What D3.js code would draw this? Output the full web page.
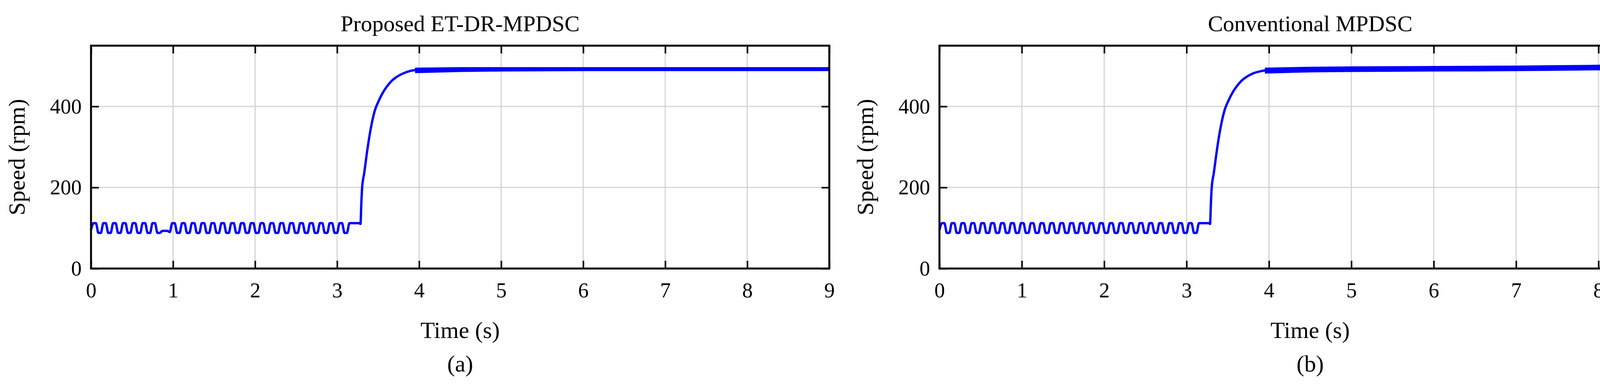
<!DOCTYPE html>
<html><head><meta charset="utf-8">
<script src="https://cdn.jsdelivr.net/npm/d3@7"></script>
<style>body{margin:0;background:#fff}</style></head>
<body><svg id="c" width="4342" height="989"></svg>
<script>
const titles = ["Proposed ET-DR-MPDSC", "Conventional MPDSC"];
const captions = ["(a)", "(b)"];
const xTicks = [0,1,2,3,4,5,6,7,8,9];
const yTicks = [0,200,400];
const lowStep = 0.03;
const lowA = [95,112,112,88,88,112,112,88,88,112,112,88,88,112,112,88,88,112,112,88,88,112,112,88,88,112,112,88,88,
  93,93,93,90,
  112,112,88,88,112,112,88,88,112,112,88,88,112,112,88,88,112,112,88,88,112,112,88,88,112,112,88,88,
  112,112,88,88,112,112,88,88,112,112,88,88,112,112,88,88,112,112,88,88,112,112,88,88,112,112,88,88,
  112,112,88,88,112,112,88,88,112,112,88,88,112,112,88,88,112,112];
const lowB = [95,112,112,88,88,112,112,88,88,112,112,88,88,112,112,88,88,112,112,88,88,112,112,88,88,112,112,88,88,
  112,112,88,88,112,112,88,88,112,112,88,88,112,112,88,88,112,112,88,88,112,112,88,88,112,112,88,88,112,112,88,88,
  112,112,88,88,112,112,88,88,112,112,88,88,112,112,88,88,112,112,88,88,112,112,88,88,112,112,88,88,
  112,112,88,88,112,112,88,88,112,112,88,88,112,112,88,88,112,112];
const riseA = [[3.27,112],[3.285,110],[3.295,160],[3.305,200],[3.33,235],[3.37,295],[3.41,345],[3.46,390],[3.51,415],[3.56,435],[3.61,450],[3.66,462],[3.72,472],[3.8,481],[3.88,487],[3.96,490]];
const riseB = [[3.27,112],[3.285,110],[3.295,160],[3.305,200],[3.33,235],[3.37,295],[3.41,345],[3.46,390],[3.51,415],[3.56,435],[3.61,450],[3.66,462],[3.72,472],[3.8,481],[3.88,486],[3.96,489]];
const bandT = [3.96,4.5,5,6,7,8,9];
const bandA_hi = [494,495,495,495,495,495,495];
const bandA_lo = [484,487,488,489,489,489,489];
const bandB_hi = [494,496,497,498,499,501,502];
const bandB_lo = [483,486,487,488,489,491,492];

const series = [
  {low: lowA, rise: riseA, hi: bandA_hi, lo: bandA_lo},
  {low: lowB, rise: riseB, hi: bandB_hi, lo: bandB_lo}
];
const panels = [{x0:233,x1:2123},{x0:2405,x1:4303}];
const plotTop = 117, plotBot = 688;
const svg = d3.select("#c");
const font = "'Liberation Serif','Times New Roman',serif";

panels.forEach((p,i)=>{
  const s = series[i];
  const x = d3.scaleLinear().domain([0,9]).range([p.x0,p.x1]);
  const y = d3.scaleLinear().domain([0,550]).range([plotBot,plotTop]);
  const g = svg.append("g");
  g.selectAll(".gx").data(xTicks.slice(1,-1)).enter().append("line")
    .attr("x1",d=>x(d)).attr("x2",d=>x(d)).attr("y1",plotTop).attr("y2",plotBot)
    .attr("stroke","#d4d4d4").attr("stroke-width",3);
  g.selectAll(".gy").data(yTicks.slice(1)).enter().append("line")
    .attr("y1",d=>y(d)).attr("y2",d=>y(d)).attr("x1",p.x0).attr("x2",p.x1)
    .attr("stroke","#d4d4d4").attr("stroke-width",3);
  const lowPts = s.low.map((v,k)=>[k*lowStep,v]);
  const pts = lowPts.concat(s.rise);
  const line = d3.line().x(d=>x(d[0])).y(d=>y(d[1])).curve(d3.curveMonotoneX);
  g.append("path").attr("d",line(pts)).attr("fill","none").attr("stroke","#0000ff").attr("stroke-width",6).attr("stroke-linejoin","round");
  const band = bandT.map((t,k)=>[t,s.lo[k],s.hi[k]]);
  g.append("path").attr("d",d3.area().x(d=>x(d[0])).y0(d=>y(d[1])).y1(d=>y(d[2])).curve(d3.curveMonotoneX)(band))
    .attr("fill","#0000ff").attr("stroke","#0000ff").attr("stroke-width",4);
  const ax = g.append("g").attr("transform",`translate(0,${plotBot})`)
    .call(d3.axisBottom(x).tickValues(xTicks).tickSize(-20).tickPadding(36).tickFormat(d3.format("d")));
  const axT = g.append("g").attr("transform",`translate(0,${plotTop})`)
    .call(d3.axisTop(x).tickValues(xTicks).tickSize(-20).tickFormat(""));
  const ay = g.append("g").attr("transform",`translate(${p.x0},0)`)
    .call(d3.axisLeft(y).tickValues(yTicks).tickSize(-20).tickPadding(24).tickFormat(d3.format("d")));
  const ayR = g.append("g").attr("transform",`translate(${p.x1},0)`)
    .call(d3.axisRight(y).tickValues(yTicks).tickSize(-20).tickFormat(""));
  [ax,axT,ay,ayR].forEach(a=>{
    a.select(".domain").remove();
    a.selectAll("line").attr("stroke","#000").attr("stroke-width",4);
    a.selectAll("text").attr("font-family",font).attr("font-size",54).attr("fill","#000");
  });
  g.append("rect").attr("x",p.x0).attr("y",plotTop).attr("width",p.x1-p.x0).attr("height",plotBot-plotTop)
    .attr("fill","none").attr("stroke","#000").attr("stroke-width",5);
  const cx = (p.x0+p.x1)/2;
  g.append("text").attr("x",cx).attr("y",80).attr("text-anchor","middle").attr("font-family",font).attr("font-size",58).text(titles[i]);
  g.append("text").attr("x",cx).attr("y",866).attr("text-anchor","middle").attr("font-family",font).attr("font-size",60).text("Time (s)");
  g.append("text").attr("x",cx).attr("y",952).attr("text-anchor","middle").attr("font-family",font).attr("font-size",60).text(captions[i]);
  g.append("text").attr("transform",`translate(${p.x0-170},${(plotTop+plotBot)/2}) rotate(-90)`).attr("text-anchor","middle")
    .attr("font-family",font).attr("font-size",60).text("Speed (rpm)");
});
</script></body></html>
